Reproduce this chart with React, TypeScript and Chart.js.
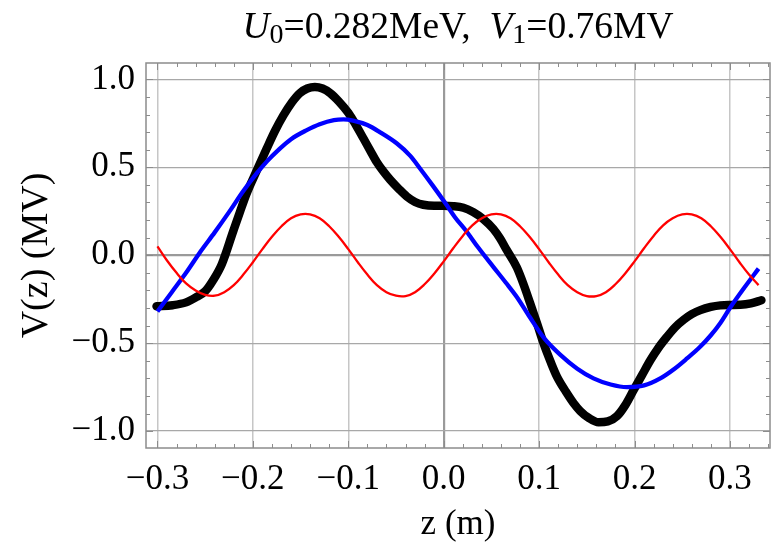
import React, { useEffect, useRef } from "react";
import { Chart, registerables } from "chart.js";

Chart.register(...registerables);

// ---- data ----
const zRed = [-0.30, -0.29, -0.28, -0.27, -0.26, -0.25, -0.24, -0.23, -0.22, -0.21, -0.20, -0.19, -0.18, -0.17, -0.16, -0.15, -0.14, -0.13, -0.12, -0.11, -0.10, -0.09, -0.08, -0.07, -0.06, -0.05, -0.04, -0.03, -0.02, -0.01, 0.00, 0.01, 0.02, 0.03, 0.04, 0.05, 0.06, 0.07, 0.08, 0.09, 0.10, 0.11, 0.12, 0.13, 0.14, 0.15, 0.16, 0.17, 0.18, 0.19, 0.20, 0.21, 0.22, 0.23, 0.24, 0.25, 0.26, 0.27, 0.28, 0.29, 0.30, 0.31, 0.32, 0.33];
const vRed = [0.05, -0.03, -0.10, -0.16, -0.20, -0.225, -0.23, -0.21, -0.17, -0.11, -0.04, 0.035, 0.105, 0.165, 0.21, 0.232, 0.232, 0.21, 0.165, 0.105, 0.035, -0.04, -0.11, -0.17, -0.21, -0.23, -0.232, -0.21, -0.165, -0.105, -0.035, 0.04, 0.11, 0.17, 0.21, 0.232, 0.232, 0.21, 0.165, 0.105, 0.035, -0.04, -0.11, -0.17, -0.21, -0.232, -0.232, -0.21, -0.165, -0.105, -0.035, 0.04, 0.11, 0.17, 0.21, 0.232, 0.232, 0.21, 0.165, 0.105, 0.035, -0.04, -0.11, -0.17];

const zBlue = [-0.300, -0.285, -0.270, -0.255, -0.240, -0.225, -0.210, -0.196, -0.185, -0.172, -0.160, -0.144, -0.130, -0.115, -0.105, -0.095, -0.080, -0.067, -0.049, -0.035, -0.025, -0.012, 0.002, 0.012, 0.024, 0.036, 0.052, 0.065, 0.077, 0.090, 0.105, 0.122, 0.140, 0.157, 0.175, 0.192, 0.210, 0.227, 0.242, 0.255, 0.268, 0.280, 0.290, 0.300, 0.315, 0.330];
const vBlue = [-0.32, -0.21, -0.10, 0.02, 0.13, 0.245, 0.365, 0.465, 0.535, 0.605, 0.66, 0.71, 0.745, 0.768, 0.772, 0.765, 0.74, 0.70, 0.635, 0.565, 0.495, 0.40, 0.294, 0.215, 0.135, 0.045, -0.066, -0.155, -0.24, -0.35, -0.47, -0.565, -0.645, -0.70, -0.735, -0.75, -0.74, -0.70, -0.645, -0.587, -0.525, -0.455, -0.385, -0.30, -0.185, -0.076];

const zBlack = [-0.301, -0.284, -0.270, -0.259, -0.250, -0.242, -0.2325, -0.2207, -0.2136, -0.2066, -0.196, -0.1856, -0.177, -0.168, -0.159, -0.1507, -0.143, -0.135, -0.127, -0.119, -0.110, -0.100, -0.092, -0.0842, -0.077, -0.0702, -0.063, -0.0562, -0.047, -0.0387, -0.030, -0.0213, -0.010, 0.000, 0.010, 0.0207, 0.031, 0.0417, 0.052, 0.0592, 0.066, 0.0767, 0.084, 0.0907, 0.098, 0.1046, 0.112, 0.1187, 0.128, 0.136, 0.143, 0.152, 0.1623, 0.172, 0.1816, 0.190, 0.199, 0.208, 0.2166, 0.225, 0.234, 0.2425, 0.2515, 0.260, 0.269, 0.280, 0.290, 0.300, 0.311, 0.322, 0.333];
const vBlack = [-0.29, -0.284, -0.268, -0.237, -0.205, -0.145, -0.05, 0.135, 0.245, 0.35, 0.48, 0.605, 0.705, 0.795, 0.87, 0.922, 0.948, 0.957, 0.948, 0.922, 0.875, 0.81, 0.74, 0.665, 0.595, 0.53, 0.475, 0.43, 0.377, 0.334, 0.303, 0.287, 0.281, 0.281, 0.279, 0.27, 0.245, 0.205, 0.15, 0.095, 0.03, -0.07, -0.17, -0.274, -0.39, -0.50, -0.605, -0.69, -0.775, -0.84, -0.885, -0.925, -0.95, -0.945, -0.915, -0.855, -0.767, -0.68, -0.597, -0.527, -0.464, -0.41, -0.367, -0.335, -0.312, -0.294, -0.285, -0.283, -0.282, -0.274, -0.256];

const xTicks = [-0.3, -0.2, -0.1, 0, 0.1, 0.2, 0.3];
const yTicks = [-1, -0.5, 0, 0.5, 1];
const xRange = [-0.312, 0.342];
const yRange = [-1.096, 1.093];

const titleParts = [
  { t: "U", italic: true, sub: false },
  { t: "0", italic: false, sub: true },
  { t: "=0.282MeV,  ", italic: false, sub: false },
  { t: "V", italic: true, sub: false },
  { t: "1", italic: false, sub: true },
  { t: "=0.76MV", italic: false, sub: false },
];
const xTitle = "z (m)";
const yTitle = "V(z) (MV)";

const SERIF = '"Liberation Serif", "Times New Roman", serif';

const fmt = (v: number) => (v < 0 ? "\u2212" : "") + Math.abs(v).toFixed(1);

const richTitle = {
  id: "richTitle",
  afterDraw(chart: any) {
    const { ctx, chartArea } = chart;
    const fontFor = (p: any) => `${p.italic ? "italic " : ""}${p.sub ? 28 : 37.5}px ${SERIF}`;
    ctx.save();
    ctx.fillStyle = "#000";
    ctx.textBaseline = "alphabetic";
    ctx.textAlign = "left";
    let total = 0;
    for (const p of titleParts) {
      ctx.font = fontFor(p);
      total += ctx.measureText(p.t).width;
    }
    let x = (chartArea.left + chartArea.right) / 2 - total / 2;
    const base = 38;
    for (const p of titleParts) {
      ctx.font = fontFor(p);
      ctx.fillText(p.t, x, base + (p.sub ? 5 : 0));
      x += ctx.measureText(p.t).width;
    }
    ctx.restore();
  },
};

const frame = {
  id: "frame",
  afterDraw(chart: any) {
    const { ctx, chartArea } = chart;
    const { left, right, top, bottom } = chartArea;
    const xs = chart.scales.x;
    const ys = chart.scales.y;
    ctx.save();
    ctx.strokeStyle = "#8c8c8c";
    ctx.lineWidth = 1.5;
    ctx.strokeRect(left, top, right - left, bottom - top);
    ctx.lineWidth = 1;
    ctx.beginPath();
    for (let i = -15; i <= 17; i++) {
      const px = Math.round(xs.getPixelForValue(i * 0.02)) + 0.5;
      if (px < left || px > right) continue;
      const len = i % 5 === 0 ? 7 : 4;
      ctx.moveTo(px, bottom);
      ctx.lineTo(px, bottom - len);
      ctx.moveTo(px, top);
      ctx.lineTo(px, top + len);
    }
    for (let j = -10; j <= 10; j++) {
      const py = Math.round(ys.getPixelForValue(j * 0.1)) + 0.5;
      if (py < top || py > bottom) continue;
      const len = j % 5 === 0 ? 7 : 4;
      ctx.moveTo(left, py);
      ctx.lineTo(left + len, py);
      ctx.moveTo(right, py);
      ctx.lineTo(right - len, py);
    }
    ctx.stroke();
    ctx.restore();
  },
};

export default function App() {
  const ref = useRef<HTMLCanvasElement>(null);
  useEffect(() => {
    const toPts = (zs: number[], vs: number[]) => zs.map((z, i) => ({ x: z, y: vs[i] }));
    const chart = new Chart(ref.current as HTMLCanvasElement, {
      type: "scatter",
      data: {
        datasets: [
          {
            data: toPts(zRed, vRed),
            showLine: true,
            borderColor: "#ff0000",
            borderWidth: 2.3,
            pointRadius: 0,
            tension: 0.4,
            borderJoinStyle: "round",
          },
          {
            data: toPts(zBlue, vBlue),
            showLine: true,
            borderColor: "#0000ff",
            borderWidth: 4.3,
            pointRadius: 0,
            cubicInterpolationMode: "monotone",
            borderJoinStyle: "round",
          },
          {
            data: toPts(zBlack, vBlack),
            showLine: true,
            borderColor: "#000000",
            borderWidth: 8.5,
            pointRadius: 0,
            cubicInterpolationMode: "monotone",
            borderJoinStyle: "round",
            borderCapStyle: "round",
          },
        ],
      } as any,
      options: {
        responsive: false,
        devicePixelRatio: 1,
        animation: false,
        layout: { padding: { top: 63, right: 2, left: 0, bottom: 0 } },
        plugins: { legend: { display: false }, tooltip: { enabled: false }, title: { display: false } },
        scales: {
          x: {
            type: "linear",
            min: xRange[0],
            max: xRange[1],
            afterBuildTicks: (s: any) => {
              s.ticks = xTicks.map((v) => ({ value: v }));
            },
            afterFit: (s: any) => {
              s.height = 98;
            },
            border: { display: false },
            grid: {
              drawTicks: false,
              color: (c: any) => (c.tick && Math.abs(c.tick.value) < 1e-9 ? "#9a9a9a" : "#c6c6c6"),
              lineWidth: (c: any) => (c.tick && Math.abs(c.tick.value) < 1e-9 ? 2.2 : 1.5),
            },
            ticks: {
              autoSkip: false,
              maxRotation: 0,
              padding: 11,
              color: "#000",
              font: { family: SERIF, size: 35 },
              callback: (v: any) => fmt(Number(v)),
            },
            title: {
              display: true,
              text: xTitle,
              color: "#000",
              font: { family: SERIF, size: 35 },
              padding: { top: 0, bottom: 0 },
            },
          },
          y: {
            type: "linear",
            min: yRange[0],
            max: yRange[1],
            afterBuildTicks: (s: any) => {
              s.ticks = yTicks.map((v) => ({ value: v }));
            },
            afterFit: (s: any) => {
              s.width = 146;
            },
            border: { display: false },
            grid: {
              drawTicks: false,
              color: (c: any) => (c.tick && Math.abs(c.tick.value) < 1e-9 ? "#9a9a9a" : "#a8a8a8"),
              lineWidth: (c: any) => (c.tick && Math.abs(c.tick.value) < 1e-9 ? 2.2 : 1.3),
            },
            ticks: {
              autoSkip: false,
              padding: 11,
              color: "#000",
              font: { family: SERIF, size: 35 },
              callback: (v: any) => fmt(Number(v)),
            },
            title: {
              display: true,
              text: yTitle,
              color: "#000",
              font: { family: SERIF, size: 38 },
              padding: { top: 14, bottom: 0 },
            },
          },
        },
      } as any,
      plugins: [richTitle, frame],
    });
    return () => chart.destroy();
  }, []);
  return (
    <div style={{ position: "absolute", left: 0, top: 0, width: 772, height: 546, background: "#fff" }}>
      <canvas ref={ref} width={772} height={546} style={{ display: "block" }} />
    </div>
  );
}
